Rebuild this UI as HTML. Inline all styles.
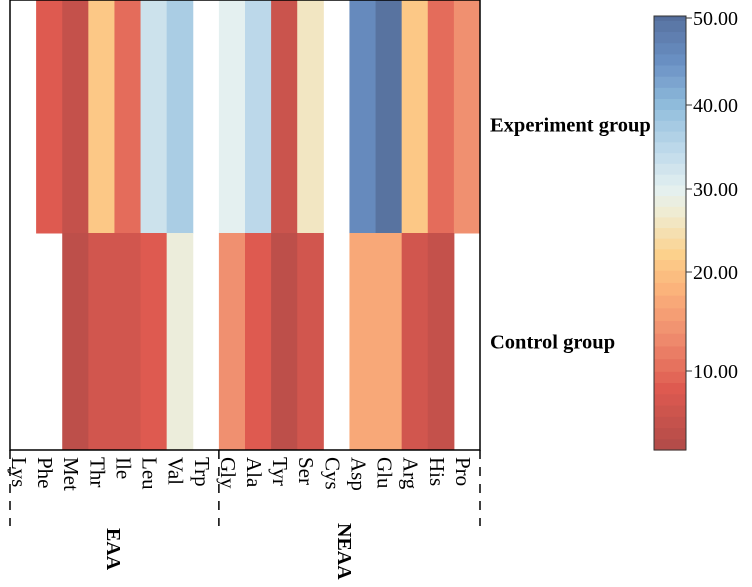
<!DOCTYPE html>
<html><head><meta charset="utf-8"><style>
html,body{margin:0;padding:0;background:#fff;}
svg{display:block;font-family:"Liberation Serif",serif;}
</style></head><body>
<svg id="chart" width="752" height="587" viewBox="0 0 752 587"></svg>
<script>
const categories=["Lys","Phe","Met","Thr","Ile","Leu","Val","Trp","Gly","Ala","Tyr","Ser","Cys","Asp","Glu","Arg","His","Pro"];
const rowNames=["Experiment group","Control group"];
const experimentValues=[null,8,4,21,10,33,37,null,30,35,5,26,null,46,50,21,10,14];
const controlValues=[null,null,3,6,6,8,28,null,14,8,3,6,null,17,17,6,4,null];
const cbarTicks=[10,20,30,40,50];
const cbarTickLabels=["10.00","20.00","30.00","40.00","50.00"];
const groupNames=["EAA","NEAA"];
const groupSpans=[[0,8],[8,18]];

const NS="http://www.w3.org/2000/svg";
const svg=document.getElementById('chart');
function mk(t,a,p){const e=document.createElementNS(NS,t);for(const k in a)e.setAttribute(k,a[k]);(p||svg).appendChild(e);return e;}
const X0=10,X1=480,Y0=16,Y1=450;
const cw=(X1-X0)/categories.length, rh=(Y1-Y0)/rowNames.length;
const xS=i=>X0+i*cw, yS=r=>Y0+r*rh;
const stops=[[1,[176,75,72]],[8,[222,90,80]],[14,[240,144,112]],[18,[251,176,122]],[22,[252,208,138]],[27,[240,236,208]],[30,[228,240,240]],[35,[188,216,234]],[40,[144,188,220]],[45,[106,144,196]],[52.3,[79,101,144]]];
function col(v){for(let i=1;i<stops.length;i++){if(v<=stops[i][0]){const a=stops[i-1],b=stops[i];const t=Math.max(0,(v-a[0])/(b[0]-a[0]));return 'rgb('+a[1].map((c,j)=>Math.round(c+(b[1][j]-c)*t)).join(',')+')';}}return 'rgb(79,101,144)';}
const rows=[experimentValues,controlValues];
const g=mk('g',{});

rows.forEach((vals,r)=>vals.forEach((v,i)=>{if(v==null)return;
 const c=mk('rect',{x:xS(i),y:Math.max(0,yS(r)-(r==0?16:0)),width:cw+0.5,height:rh+(r==0?16:0)+0.5,fill:col(v)},g);
 
 }));
const fr=mk('path',{d:`M${X0} 0V${Y1}H${X1}V0`,fill:'none',stroke:'#000','stroke-width':1.5});

mk('line',{x1:X0,y1:0,x2:X1,y2:0,stroke:'#000','stroke-width':1.5});
categories.forEach((c,i)=>{const x=xS(i)+2;
 const t=mk('text',{x:0,y:0,transform:`translate(${x},${Y1+7}) rotate(90)`,'font-size':21});
 t.textContent=c;});
[0,8,18].forEach(i=>{const l=mk('line',{x1:xS(i),y1:Y1,x2:xS(i),y2:526,stroke:'#000','stroke-width':1.5,'stroke-dasharray':'9,8'});
 });
groupNames.forEach((n,k)=>{const cx=(xS(groupSpans[k][0])+xS(groupSpans[k][1]))/2;
 const t=mk('text',{transform:`translate(${n=='EAA'?107:338},${n=='EAA'?528:523}) rotate(90)`,'font-size':20,'font-weight':'bold'});
 t.textContent=n;});
rowNames.forEach((n,r)=>{const t=mk('text',{x:490,y:yS(r)+rh/2+7,'font-size':20.5,'font-weight':'bold'});
 t.textContent=n;});
// colorbar
const CB0=654,CB1=686,CT=16,CBt=450,vMin=1,vMax=52.3;
const tickY=[371,272,189,105,18];
function cy(v){const vs=[vMin].concat(cbarTicks,[vMax]),ys=[CBt].concat(tickY,[CT]);
 for(let i=1;i<vs.length;i++)if(v<=vs[i])return ys[i-1]+(ys[i]-ys[i-1])*(v-vs[i-1])/(vs[i]-vs[i-1]);return CT;}
const cb=mk('g',{});
const N=40;for(let k=0;k<N;k++){const a=vMin+(vMax-vMin)*k/N,b=vMin+(vMax-vMin)*(k+1)/N;
 mk('rect',{x:CB0,y:cy(b),width:CB1-CB0,height:cy(a)-cy(b)+0.6,fill:col((a+b)/2)},cb);}
mk('rect',{x:CB0,y:CT,width:CB1-CB0,height:CBt-CT,fill:'none',stroke:'#333','stroke-width':1},cb);
cbarTicks.forEach((v,i)=>{const y=cy(v);mk('line',{x1:CB1,y1:y,x2:CB1+6,y2:y,stroke:'#333'},cb);
 const t=mk('text',{x:CB1+7,y:y+7,'font-size':20},cb);t.textContent=cbarTickLabels[i];
 });
</script>
</body></html>
